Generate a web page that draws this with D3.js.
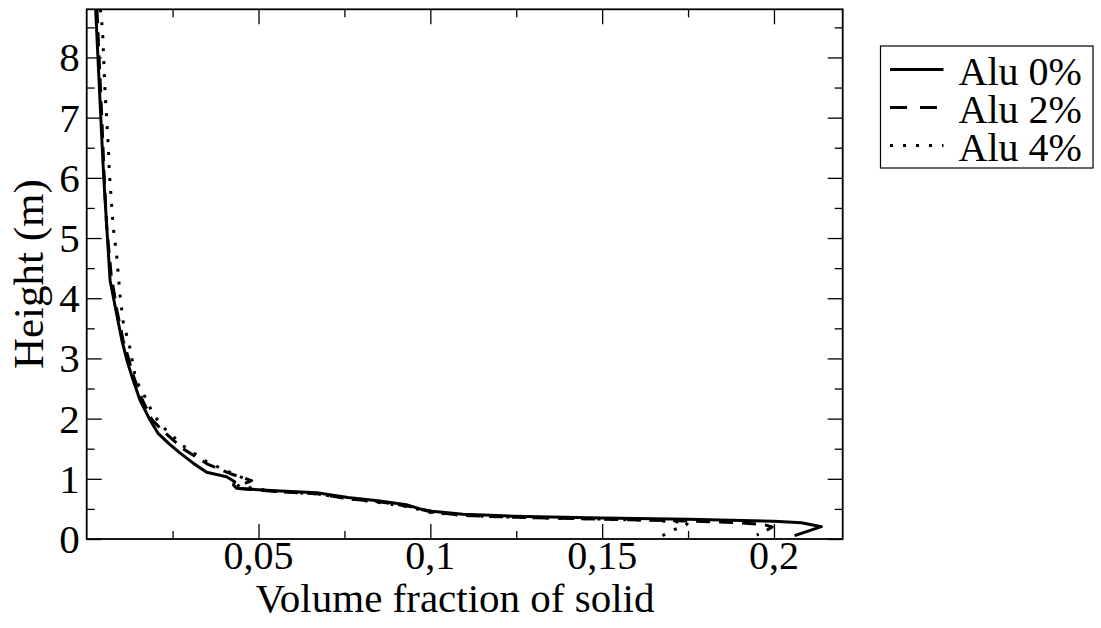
<!DOCTYPE html>
<html>
<head>
<meta charset="utf-8">
<script src="https://cdn.jsdelivr.net/npm/d3@7"></script>
<style>
  body { margin: 0; background: #fff; }
  svg { display: block; }
  text { font-family: "Liberation Serif", "Times New Roman", serif; fill: #000; }
</style>
</head>
<body>
<div id="chart"></div>
<script>
// values: [volume fraction, height in m]
const alu0 = [
  [0.0026, 8.8], [0.0034, 7.85], [0.0041, 7.0], [0.0048, 6.18], [0.0053, 5.68], [0.0068, 4.3],
  [0.0085, 3.8], [0.0102, 3.31], [0.0118, 2.95], [0.0135, 2.64], [0.0155, 2.31], [0.0184, 1.98],
  [0.0207, 1.76], [0.024, 1.58], [0.0271, 1.43], [0.031, 1.26], [0.0349, 1.11], [0.0407, 1.035],
  [0.0431, 0.952], [0.0427, 0.897], [0.0436, 0.842], [0.055, 0.8], [0.067, 0.77], [0.076, 0.69],
  [0.0853, 0.63], [0.093, 0.57], [0.097, 0.5], [0.1005, 0.46], [0.1095, 0.41], [0.124, 0.38],
  [0.15, 0.35], [0.175, 0.33], [0.2, 0.295], [0.208, 0.27], [0.2138, 0.205], [0.206, 0.055]
];
const alu2 = [
  [0.003, 8.8], [0.0036, 8.0], [0.0044, 7.0], [0.0051, 6.0], [0.0058, 5.2], [0.0071, 4.4],
  [0.0088, 3.8], [0.0106, 3.3], [0.014, 2.64], [0.0162, 2.31], [0.019, 1.98], [0.0225, 1.78],
  [0.028, 1.5], [0.035, 1.25], [0.042, 1.08], [0.048, 0.97], [0.0445, 0.89], [0.0441, 0.84],
  [0.055, 0.79], [0.067, 0.75], [0.076, 0.67], [0.086, 0.61], [0.094, 0.54], [0.1, 0.45],
  [0.11, 0.39], [0.125, 0.36], [0.15, 0.33], [0.175, 0.3], [0.19, 0.27], [0.197, 0.24],
  [0.1995, 0.2], [0.1975, 0.13], [0.195, 0.065]
];
const alu4 = [
  [0.004, 8.8], [0.0044, 8.58], [0.0047, 8.33], [0.005, 7.9], [0.0053, 7.46], [0.0058, 7.0],
  [0.0063, 6.5], [0.0066, 6.08], [0.0071, 5.68], [0.0077, 5.19], [0.0087, 4.72], [0.0097, 4.05],
  [0.0106, 3.61], [0.0126, 3.17], [0.014, 2.73], [0.0155, 2.5], [0.0175, 2.31], [0.0189, 2.12],
  [0.0215, 1.9], [0.028, 1.55], [0.035, 1.28], [0.042, 1.1], [0.046, 1.0], [0.044, 0.88],
  [0.055, 0.79], [0.067, 0.75], [0.076, 0.67], [0.086, 0.6], [0.094, 0.53], [0.1, 0.44],
  [0.11, 0.39], [0.125, 0.36], [0.15, 0.33], [0.165, 0.31], [0.175, 0.27], [0.174, 0.21],
  [0.17, 0.14], [0.1675, 0.05]
];
const seriesNames = ["Alu 0%", "Alu 2%", "Alu 4%"];

const xMajor = [0.05, 0.1, 0.15, 0.2];
const xMajorLabels = ["0,05", "0,1", "0,15", "0,2"];
const xMinor = [0.025, 0.075, 0.125, 0.175];
const yMajor = [0, 1, 2, 3, 4, 5, 6, 7, 8];
const yMinor = [0.5, 1.5, 2.5, 3.5, 4.5, 5.5, 6.5, 7.5, 8.5];

const width = 1101, height = 628;
const margin = { top: 9.3, right: 258.3, bottom: 89, left: 86.7 };
const iw = width - margin.left - margin.right;
const ih = height - margin.top - margin.bottom;

const svg = d3.select("#chart").append("svg")
  .attr("width", width)
  .attr("height", height);

const x = d3.scaleLinear().domain([0, 0.22]).range([0, iw]);
const y = d3.scaleLinear().domain([0, 8.8]).range([ih, 0]);

const g = svg.append("g")
  .attr("transform", "translate(" + margin.left + "," + margin.top + ")");

g.append("clipPath").attr("id", "clip")
  .append("rect").attr("width", iw).attr("height", ih);

// ticks, all pointing inwards
function ticks(axis, vals, len, tx) {
  const a = g.append("g")
    .attr("transform", tx)
    .call(axis.tickValues(vals).tickSize(-len).tickFormat(""));
  a.select(".domain").remove();
  a.selectAll("line").attr("stroke", "#000").attr("stroke-width", 1.3);
}
ticks(d3.axisBottom(x), xMajor, 15, "translate(0," + ih + ")");
ticks(d3.axisBottom(x), xMinor, 8, "translate(0," + ih + ")");
ticks(d3.axisTop(x), xMajor, 15, "");
ticks(d3.axisTop(x), xMinor, 8, "");
ticks(d3.axisLeft(y), yMajor, 15, "");
ticks(d3.axisLeft(y), yMinor, 8, "");
ticks(d3.axisRight(y), yMajor, 15, "translate(" + iw + ",0)");
ticks(d3.axisRight(y), yMinor, 8, "translate(" + iw + ",0)");

// tick labels
g.selectAll(".xlab").data(xMajor).enter().append("text")
  .attr("x", d => x(d))
  .attr("y", ih + 30)
  .attr("text-anchor", "middle")
  .attr("font-size", 40)
  .text((d, i) => xMajorLabels[i]);

g.selectAll(".ylab").data(yMajor).enter().append("text")
  .attr("x", -7)
  .attr("y", d => y(d) + 14)
  .attr("text-anchor", "end")
  .attr("font-size", 41)
  .text(d => d);

const line = d3.line().x(d => x(d[0])).y(d => y(d[1]));

const styles = [
  { data: alu0, dash: null },
  { data: alu2, dash: "14,9" },
  { data: alu4, dash: "3,10" }
];

g.append("g").attr("clip-path", "url(#clip)")
  .selectAll("path").data(styles).enter().append("path")
  .attr("d", d => line(d.data))
  .attr("fill", "none")
  .attr("stroke", "#000")
  .attr("stroke-width", 3)
  .attr("stroke-linejoin", "round")
  .attr("stroke-dasharray", d => d.dash);

// frame
g.append("rect")
  .attr("width", iw).attr("height", ih)
  .attr("fill", "none")
  .attr("stroke", "#000")
  .attr("stroke-width", 1.8);

// axis titles
svg.append("text")
  .attr("x", 455)
  .attr("y", 612)
  .attr("text-anchor", "middle")
  .attr("font-size", 41)
  .text("Volume fraction of solid");

svg.append("text")
  .attr("transform", "translate(43," + (margin.top + ih / 2) + ") rotate(-90)")
  .attr("text-anchor", "middle")
  .attr("font-size", 43)
  .text("Height (m)");

// legend
const leg = svg.append("g").attr("transform", "translate(880.5,46)");
leg.append("rect")
  .attr("width", 212.5).attr("height", 122)
  .attr("fill", "#fff")
  .attr("stroke", "#000")
  .attr("stroke-width", 1.2);

const item = leg.selectAll(".item").data(styles).enter().append("g")
  .attr("transform", (d, i) => "translate(0," + (23.5 + i * 38) + ")");
item.append("line")
  .attr("x1", 9.5).attr("x2", 63)
  .attr("stroke", "#000")
  .attr("stroke-width", 3)
  .attr("stroke-dasharray", d => d.dash ? (d.dash === "3,10" ? "3,10" : "17,13") : null);
item.append("text")
  .attr("x", 78)
  .attr("y", 15)
  .attr("font-size", 40)
  .text((d, i) => seriesNames[i]);
</script>
</body>
</html>
